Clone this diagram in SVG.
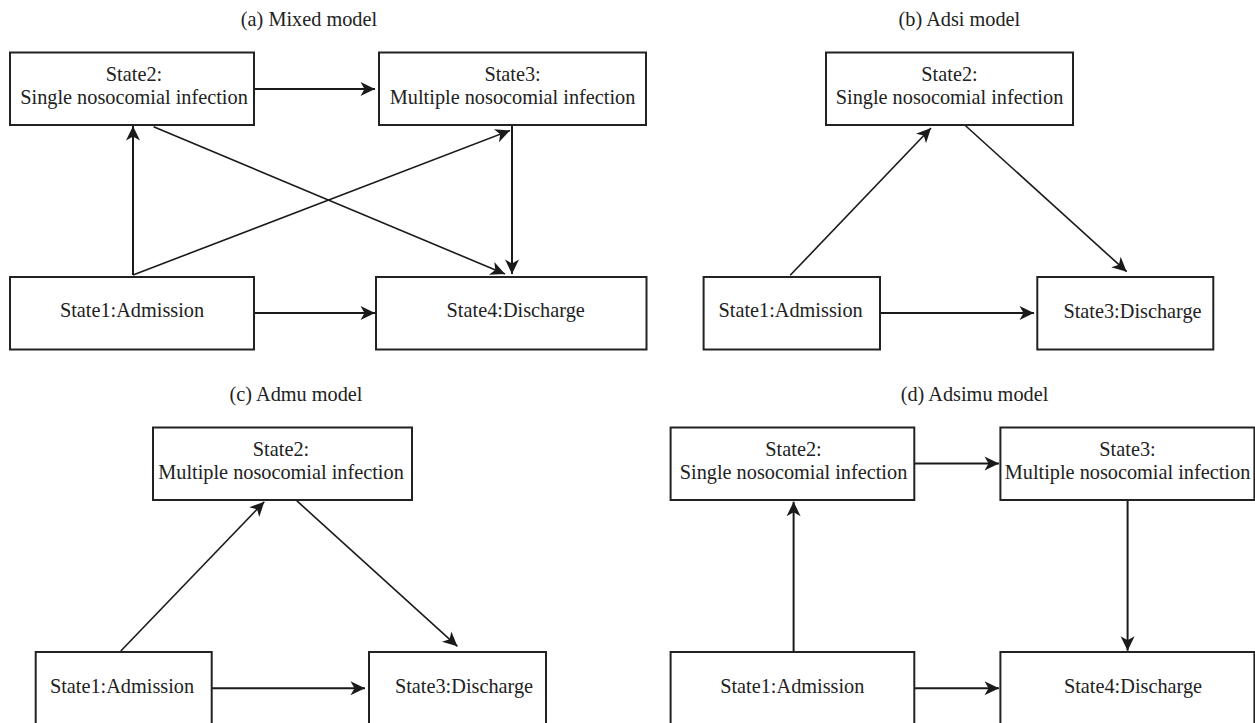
<svg xmlns="http://www.w3.org/2000/svg" width="1255" height="723" viewBox="0 0 1255 723">
<style>
.box{fill:#fff;stroke:#222;stroke-width:2}
text{font-family:"Liberation Serif","Times New Roman","DejaVu Serif",serif;font-size:20.3px;fill:#222;text-anchor:middle}
.c{fill:none;stroke:#1a1a1a;stroke-width:2;marker-end:url(#ah)}
.d{fill:none;stroke:#1a1a1a;stroke-width:1.6;marker-end:url(#ah)}
</style>
<defs>
<marker id="ah" markerUnits="userSpaceOnUse" markerWidth="18" markerHeight="18" viewBox="-16 -9 18 18" refX="0" refY="0" orient="auto">
<path d="M0,0 L-14.5,-7 L-10.5,0 L-14.5,7 Z" fill="#1a1a1a"/>
</marker>
</defs>
<rect width="1255" height="723" fill="#fff"/>
<g id="titles">
<text x="309" y="26">(a) Mixed model</text>
<text x="959.4" y="26">(b) Adsi model</text>
<text x="296" y="401">(c) Admu model</text>
<text x="974.5" y="401">(d) Adsimu model</text>
</g>
<g id="connectors">
<path class="c" d="M254,89 L375,89"/>
<path class="c" d="M254,313 L375,313"/>
<path class="c" d="M133,275 L133,126"/>
<path class="d" d="M133,275 L510,130.5"/>
<path class="d" d="M153.6,126.7 L505,274"/>
<path class="c" d="M512,123 L512,274"/>
<path class="d" d="M790.2,275.3 L931,128"/>
<path class="d" d="M965.3,125.5 L1126.7,271.7"/>
<path class="c" d="M880,313 L1034,313"/>
<path class="d" d="M120.8,651 L264.3,501.7"/>
<path class="d" d="M296.7,500.7 L457.4,646.3"/>
<path class="c" d="M211.7,688.3 L365,688.3"/>
<path class="c" d="M914.3,463.5 L999,463.5"/>
<path class="c" d="M914.3,688.3 L999,688.3"/>
<path class="c" d="M793.6,651.7 L793.6,501.7"/>
<path class="c" d="M1127.6,500 L1127.6,650.7"/>
</g>
<g id="a_state2"><rect class="box" x="10" y="52.5" width="244" height="72.5"/><text x="134" y="80.7">State2:</text><text x="134" y="104">Single nosocomial infection</text></g>
<g id="a_state3"><rect class="box" x="379" y="52.5" width="267" height="72.5"/><text x="512.6" y="80.7">State3:</text><text x="512.6" y="104">Multiple nosocomial infection</text></g>
<g id="a_state1"><rect class="box" x="10" y="277" width="244" height="72.5"/><text x="132" y="317">State1:Admission</text></g>
<g id="a_state4"><rect class="box" x="376" y="277" width="270.5" height="72.5"/><text x="515.7" y="316.5">State4:Discharge</text></g>
<g id="b_state2"><rect class="box" x="826" y="52.5" width="247" height="72.5"/><text x="949.5" y="80.7">State2:</text><text x="949.5" y="104">Single nosocomial infection</text></g>
<g id="b_state1"><rect class="box" x="703.6" y="277" width="176.4" height="72.5"/><text x="790.6" y="317">State1:Admission</text></g>
<g id="b_state3"><rect class="box" x="1037.3" y="277" width="176" height="72.5"/><text x="1132.5" y="317.5">State3:Discharge</text></g>
<g id="c_state2"><rect class="box" x="153" y="427.5" width="259" height="72.5"/><text x="281" y="455.7">State2:</text><text x="281" y="479">Multiple nosocomial infection</text></g>
<g id="c_state1"><rect class="box" x="35.7" y="652" width="176" height="72.5"/><text x="122" y="692.5">State1:Admission</text></g>
<g id="c_state3"><rect class="box" x="369" y="652" width="177" height="72.5"/><text x="464" y="692.5">State3:Discharge</text></g>
<g id="d_state2"><rect class="box" x="670.6" y="427.5" width="243.7" height="72.5"/><text x="793.5" y="455.7">State2:</text><text x="793.5" y="479">Single nosocomial infection</text></g>
<g id="d_state3"><rect class="box" x="1000.4" y="427.5" width="254" height="72.5"/><text x="1127.5" y="455.7">State3:</text><text x="1127.5" y="479">Multiple nosocomial infection</text></g>
<g id="d_state1"><rect class="box" x="670.6" y="652" width="243.7" height="72.5"/><text x="792.3" y="692.5">State1:Admission</text></g>
<g id="d_state4"><rect class="box" x="1000.4" y="652" width="254" height="72.5"/><text x="1133" y="692.5">State4:Discharge</text></g>
</svg>
